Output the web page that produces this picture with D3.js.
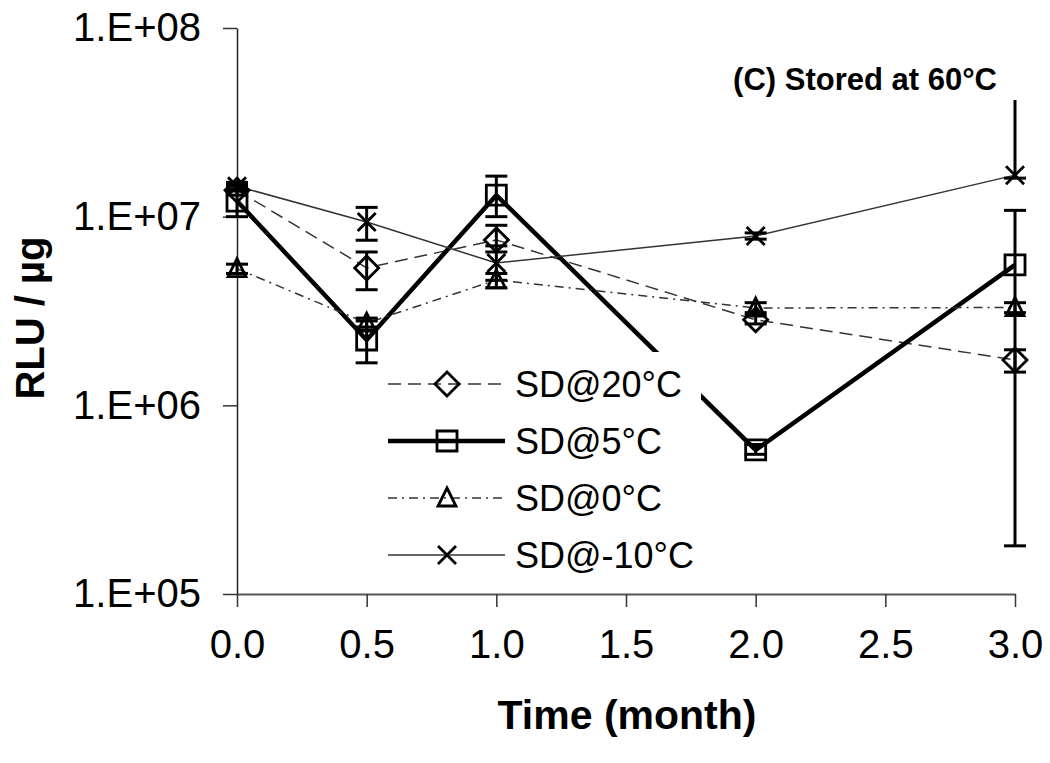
<!DOCTYPE html>
<html><head><meta charset="utf-8">
<script src="https://cdn.jsdelivr.net/npm/d3@7/dist/d3.min.js"></script>
<style>html,body{margin:0;padding:0;background:#fff;}svg{display:block;}</style>
</head><body>
<svg id="chart" width="1050" height="763"></svg>
<script>
// ---- data ----
const times = [0, 0.5, 1.0, 2.0, 3.0];
const seriesNames = ["SD@20°C", "SD@5°C", "SD@0°C", "SD@-10°C"];
const sd20 = [1.38e7, 5.35e6, 7.53e6, 2.84e6, 1.74e6];
const sd20Low = [1.30e7, 4.1e6, 6.5e6, 2.7e6, 1.5e6];
const sd20High = [1.48e7, 6.5e6, 9.0e6, 3.0e6, 1.97e6];
const sd5 = [1.21e7, 2.22e6, 1.30e7, 5.8e5, 5.55e6];
const sd5Low = [1.0e7, 1.68e6, 1.0e7, 5.5e5, 1.8e5];
const sd5High = [1.45e7, 2.8e6, 1.64e7, 6.2e5, 1.08e7];
const sd0 = [5.3e6, 2.73e6, 4.62e6, 3.28e6, 3.3e6];
const sd0Low = [5.0e6, 2.6e6, 4.2e6, 3.1e6, 3.1e6];
const sd0High = [5.6e6, 2.9e6, 5.0e6, 3.5e6, 3.5e6];
const sdm10 = [1.45e7, 9.38e6, 5.68e6, 7.9e6, 1.66e7];
const sdm10Low = [1.40e7, 7.5e6, 4.6e6, 7.6e6, 1.6e7];
const sdm10High = [1.52e7, 1.12e7, 7.0e6, 8.2e6, 4.15e7];
const xTicks = [0, 0.5, 1.0, 1.5, 2.0, 2.5, 3.0];
const yTicks = [1e5, 1e6, 1e7, 1e8];
const yTickLabels = ["1.E+05", "1.E+06", "1.E+07", "1.E+08"];
const xTitle = "Time (month)";
const yTitle = "RLU / µg";
const chartTitle = "(C) Stored at 60°C";

// ---- styles ----
const seriesData = [
  {name: seriesNames[0], v: sd20, lo: sd20Low, hi: sd20High, marker: "diamond", width: 1.5, dash: "13,7", color: "#333", noTopCap: []},
  {name: seriesNames[1], v: sd5, lo: sd5Low, hi: sd5High, marker: "square", width: 4.5, dash: null, color: "#000", noTopCap: []},
  {name: seriesNames[2], v: sd0, lo: sd0Low, hi: sd0High, marker: "triangle", width: 1.5, dash: "9,5,2,5", color: "#333", noTopCap: []},
  {name: seriesNames[3], v: sdm10, lo: sdm10Low, hi: sdm10High, marker: "x", width: 1.5, dash: null, color: "#333", noTopCap: [4]}
];

const svg = d3.select("#chart");
const font = "Arial, 'Liberation Sans', sans-serif";
const x = d3.scaleLinear().domain([0, 3]).range([237, 1015]);
const y = d3.scaleLog().domain([1e5, 1e8]).range([594, 28]);

// axes
const yAxis = d3.axisLeft(y).tickValues(yTicks).tickFormat((d, i) => yTickLabels[i]).tickSizeInner(14).tickSizeOuter(0).tickPadding(22);
const gy = svg.append("g").attr("transform", "translate(237,0)").call(yAxis);
const xAxis = d3.axisBottom(x).tickValues(xTicks).tickFormat(d3.format(".1f")).tickSizeInner(13).tickSizeOuter(0).tickPadding(23);
const gx = svg.append("g").attr("transform", "translate(0,594)").call(xAxis);
[gx, gy].forEach(g => {
  g.selectAll(".tick line").attr("stroke", "#333").attr("stroke-width", 1.5);
  g.selectAll(".tick text").attr("font-family", font).attr("font-size", 40).attr("fill", "#000");
});
gy.select(".domain").attr("stroke", "#222").attr("stroke-width", 1.5);
gx.select(".domain").attr("stroke", "#555").attr("stroke-width", 2);

// lines
const line = d3.line().x((d, i) => x(times[i])).y(d => y(d));
seriesData.forEach(s => {
  svg.append("path").datum(s.v).attr("d", line).attr("fill", "none")
    .attr("stroke", s.color).attr("stroke-width", s.width)
    .attr("stroke-dasharray", s.dash);
});

// error bars
seriesData.forEach(s => {
  const g = svg.append("g").attr("stroke", "#000").attr("stroke-width", 3);
  times.forEach((t, i) => {
    const cx = x(t), y1 = y(s.lo[i]), y2 = y(s.hi[i]);
    g.append("line").attr("x1", cx).attr("x2", cx).attr("y1", y1).attr("y2", y2);
    g.append("line").attr("x1", cx - 11).attr("x2", cx + 11).attr("y1", y1).attr("y2", y1);
    if (!s.noTopCap.includes(i))
      g.append("line").attr("x1", cx - 11).attr("x2", cx + 11).attr("y1", y2).attr("y2", y2);
  });
});

function drawMarker(g, type, cx, cy) {
  const m = g.append("path").attr("fill", "none").attr("stroke", "#000").attr("stroke-width", 2.8);
  if (type === "diamond") m.attr("d", `M${cx},${cy-12}L${cx+12},${cy}L${cx},${cy+12}L${cx-12},${cy}Z`);
  else if (type === "square") m.attr("d", `M${cx-10},${cy-10}H${cx+10}V${cy+10}H${cx-10}Z`);
  else if (type === "triangle") m.attr("d", `M${cx},${cy-10}L${cx+9},${cy+8}L${cx-9},${cy+8}Z`);
  else m.attr("d", `M${cx-9},${cy-9}L${cx+9},${cy+9}M${cx-9},${cy+9}L${cx+9},${cy-9}`);
}
seriesData.forEach(s => {
  const g = svg.append("g");
  s.v.forEach((v, i) => drawMarker(g, s.marker, x(times[i]), y(v)));
});

// legend
const lg = svg.append("g");
lg.append("rect").attr("x", 385).attr("y", 352).attr("width", 316).attr("height", 238).attr("fill", "#fff");
seriesData.forEach((s, i) => {
  const ly = 384 + i * 57;
  lg.append("line").attr("x1", 388).attr("x2", 505).attr("y1", ly).attr("y2", ly)
    .attr("stroke", s.color).attr("stroke-width", s.width).attr("stroke-dasharray", s.dash);
  drawMarker(lg, s.marker, 447, ly);
  lg.append("text").attr("x", 515).attr("y", ly).attr("dy", "0.36em")
    .attr("font-family", font).attr("font-size", 36).text(s.name);
});

// titles
svg.append("text").attr("x", 627).attr("y", 729).attr("text-anchor", "middle")
  .attr("font-family", font).attr("font-weight", "bold").attr("font-size", 41).text(xTitle);
svg.append("text").attr("transform", "translate(44,318) rotate(-90)").attr("text-anchor", "middle")
  .attr("font-family", font).attr("font-weight", "bold").attr("font-size", 40).text(yTitle);
svg.append("text").attr("x", 997).attr("y", 90).attr("text-anchor", "end")
  .attr("font-family", font).attr("font-weight", "bold").attr("font-size", 31).text(chartTitle);
</script>
</body></html>
